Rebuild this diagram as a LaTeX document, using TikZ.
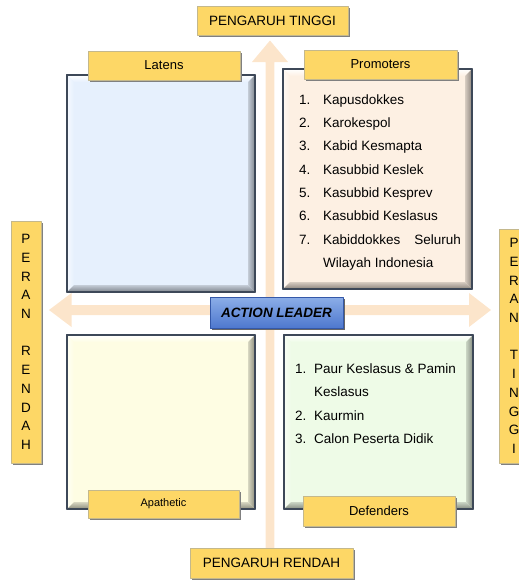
\documentclass[tikz,border=0pt]{standalone}
\usepackage{fontspec}
\setmainfont{Liberation Sans}
\usetikzlibrary{calc,shadows}
\definecolor{tagfill}{RGB}{253,215,102}
\definecolor{tagline}{RGB}{196,184,140}
\definecolor{axis}{RGB}{252,229,203}
\definecolor{frame}{RGB}{61,72,88}
\definecolor{latbg}{RGB}{230,240,253}
\definecolor{probg}{RGB}{253,240,227}
\definecolor{apabg}{RGB}{254,253,227}
\definecolor{defbg}{RGB}{238,251,231}
\definecolor{leadtop}{RGB}{140,174,232}
\definecolor{leadbot}{RGB}{78,120,206}
\definecolor{leadline}{RGB}{52,88,168}

\begin{document}
\begin{tikzpicture}[x=1pt,y=-1pt,line join=round,
  tag/.style={fill=tagfill,draw=tagline,line width=0.6pt,inner sep=0pt,outer sep=0pt,
    drop shadow={shadow xshift=2pt,shadow yshift=-2pt,fill=black!50,opacity=1},
    font=\fontsize{13}{15}\selectfont},
  sidetag/.style={tag,minimum width=30,align=center,font=\fontsize{13.5}{18.7}\selectfont},
  quad/.style={draw=frame,line width=1.6pt,inner sep=0pt,outer sep=0pt},
  item/.style={anchor=base west,inner sep=0pt,font=\fontsize{13.5}{16}\selectfont}]
  \useasboundingbox (0,0) rectangle (519,581);
  \coordinate (up) at (270,40.5); \coordinate (lft) at (49,310); \coordinate (rgt) at (491,310);
  \fill[axis] (up) -- (288,62) -- (274.3,62) -- (274.3,548) -- (265.7,548) -- (265.7,62) -- (252,62) -- cycle;
  \fill[axis] (lft) -- (71.5,293) -- (71.5,305) -- (469,305) -- (469,293) -- (rgt)
    -- (469,327) -- (469,315) -- (71.5,315) -- (71.5,327) -- cycle;
  \foreach \n/\xa/\ya/\xb/\yb/\c in {latens/67/75/255/292/latbg,promoters/283/69/472/289/probg,
      apathetic/67/335/255/509/apabg,defenders/284/335/473/509/defbg} {
    \node[quad,fill=\c,minimum width=\xb-\xa,minimum height=\yb-\ya] (\n) at ({(\xa+\xb)/2},{(\ya+\yb)/2}) {};
    \shade[top color=white,bottom color=\c] (\n.north west) -- (\n.north east) -- ($(\n.north east)+(-7,7)$) -- ($(\n.north west)+(7,7)$) -- cycle;
    \shade[left color=white!60!\c,right color=\c] (\n.north west) -- ($(\n.north west)+(7,7)$) -- ($(\n.south west)+(7,-7)$) -- (\n.south west) -- cycle;
    \shade[left color=\c!85!black,right color=\c!55!black] (\n.north east) -- (\n.south east) -- ($(\n.south east)+(-7,-7)$) -- ($(\n.north east)+(-7,7)$) -- cycle;
    \shade[top color=\c!85!black,bottom color=\c!55!black] (\n.south west) -- ($(\n.south west)+(7,-7)$) -- ($(\n.south east)+(-7,-7)$) -- (\n.south east) -- cycle;
    \draw[frame,line width=1.6pt] (\n.north west) rectangle (\n.south east);
  }
  \foreach \t [count=\i] in {Kapusdokkes,Karokespol,Kabid Kesmapta,Kasubbid Keslek,Kasubbid Kesprev,Kasubbid Keslasus} {
    \node[item] (pn\i) at (299,{104.3+23.3*(\i-1)}) {\i.};
    \node[item] (pt\i) at (323,{104.3+23.3*(\i-1)}) {\t};
  }
  \node[item] (pn7) at (299,244.3) {7.};
  \node[item] (pt7) at (323,244.3) {Kabiddokkes};
  \node[item,anchor=base east] (pt7s) at (461,244.3) {Seluruh};
  \node[item] (pt7w) at (323,267.6) {Wilayah Indonesia};
  \node[item] (dn1) at (295,373.3) {1.}; \node[item] (dt1) at (314,373.3) {Paur Keslasus \& Pamin};
  \node[item] (dt1k) at (314,396.7) {Keslasus};
  \node[item] (dn2) at (295,420) {2.}; \node[item] (dt2) at (314,420) {Kaurmin};
  \node[item] (dn3) at (295,443.3) {3.}; \node[item] (dt3) at (314,443.3) {Calon Peserta Didik};
  \node[tag,minimum width=152,minimum height=29] (latlab) at (164,65.5) {Latens};
  \node[tag,minimum width=153,minimum height=29] (prolab) at (380.5,64.5) {Promoters};
  \node[tag,minimum width=151,minimum height=28,font=\fontsize{11}{13}\selectfont] (apalab) at (163.5,504) {Apathetic};
  \node[tag,minimum width=152,minimum height=30] (deflab) at (379,511) {Defenders};
  \node[tag,minimum width=151,minimum height=29,font=\fontsize{13.5}{15}\selectfont] (hightop) at (272.5,20.5) {PENGARUH TINGGI};
  \node[tag,minimum width=163,minimum height=30,font=\fontsize{13.5}{15}\selectfont] (lowbot) at (271.5,563) {PENGARUH RENDAH};
  \node[sidetag,minimum height=242] (lowside) at (26,342) {P\\E\\R\\A\\N\\[18.7pt]R\\E\\N\\D\\A\\H};
  \node[sidetag,minimum height=234] (highside) at (514,346) {P\\E\\R\\A\\N\\[18.7pt]T\\I\\N\\G\\G\\I};
  \node[draw=leadline,line width=0.8pt,top color=leadtop,bottom color=leadbot,minimum width=133,minimum height=31,
    inner sep=0pt,drop shadow={shadow xshift=2pt,shadow yshift=-2pt,fill=black!60,opacity=1},
    font=\fontsize{13.5}{15}\selectfont\bfseries\itshape] (lead) at (276.5,312.5) {ACTION LEADER};
\end{tikzpicture}
\end{document}
